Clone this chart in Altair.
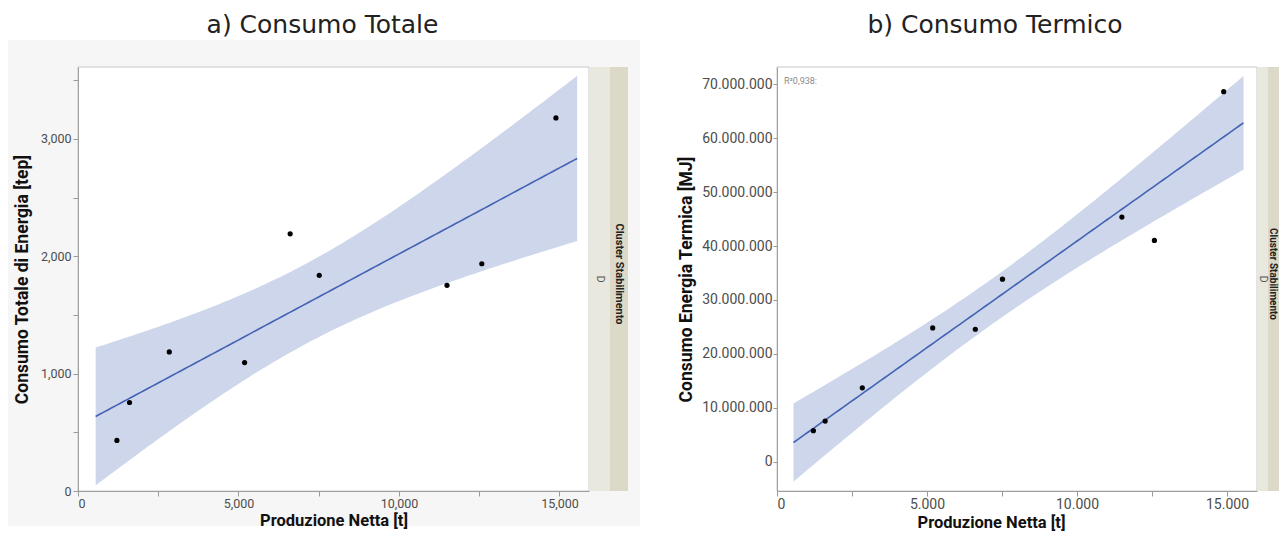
import altair as alt
import numpy as np
import pandas as pd

# ---------------- data ----------------
PRODUZIONE = [1212, 1605, 2844, 5190, 6610, 7516, 11496, 12580, 14890]
CONSUMO_TOTALE = [431, 754, 1185, 1094, 2191, 1837, 1752, 1936, 3178]
CONSUMO_TERMICO = [5740000, 7520000, 13700000, 24800000, 24560000,
                   33850000, 45370000, 41040000, 68630000]
FIT_RANGE = [550, 15550]
T_CRIT = 2.3646  # t(0.975, df = 7)
R2_LABEL = "R²0,938:"
TITLES = ["a) Consumo Totale", "b) Consumo Termico"]
X_TITLE = "Produzione Netta [t]"
Y_TITLES = ["Consumo Totale di Energia [tep]", "Consumo Energia Termica [MJ]"]
X_TICKS = [0, 2500, 5000, 7500, 10000, 12500, 15000]
Y_TICKS_TOT = [0, 500, 1000, 1500, 2000, 2500, 3000, 3500]
Y_TICKS_TERM = [0, 10000000, 20000000, 30000000, 40000000, 50000000, 60000000, 70000000]
STRIP_LEVEL = "D"
STRIP_TITLE = "Cluster Stabilimento"

H = 424
FONT = "Roboto"
TITLE_FONT = "DejaVu Sans"


def fit_band(x, y, lo, hi, n=120):
    x = np.asarray(x, float)
    y = np.asarray(y, float)
    b, a = np.polyfit(x, y, 1)
    res = y - (a + b * x)
    s = np.sqrt((res ** 2).sum() / (len(x) - 2))
    xm = x.mean()
    sxx = ((x - xm) ** 2).sum()
    g = np.linspace(lo, hi, n)
    yh = a + b * g
    se = s * np.sqrt(1.0 / len(x) + (g - xm) ** 2 / sxx)
    return pd.DataFrame({"x": g, "fit": yh, "lo": yh - T_CRIT * se, "hi": yh + T_CRIT * se})


def panel(yvals, xdom, ydom, yticks, xexpr, yexpr, ytitle, width, title, title_dx,
          title_offset, lab_size, ytick, ylab_pad, ytitle_pad, xtitle_x=None,
          gray_bg=False, r2=None):
    pts = pd.DataFrame({"x": PRODUZIONE, "y": yvals})
    fit = fit_band(PRODUZIONE, yvals, FIT_RANGE[0], FIT_RANGE[1])
    dummy = pd.DataFrame({"t": [r2 if r2 else ""]})

    xaxis_kw = dict(values=X_TICKS, labelExpr=xexpr, title=X_TITLE, grid=False, zindex=1,
                    tickSize=5, tickColor="#9a9a9a", domainColor="#a0a0a0",
                    labelColor="#4d4d4d", labelFontSize=lab_size, labelFont=FONT,
                    titleFont=FONT, titleFontSize=16.5, titleFontWeight="bold",
                    titleColor="#111111", labelPadding=1, titlePadding=3)
    if xtitle_x is not None:
        xaxis_kw["titleX"] = xtitle_x
    xenc = alt.X("x:Q", scale=alt.Scale(domain=xdom, nice=False, zero=False),
                 axis=alt.Axis(**xaxis_kw))
    yenc = alt.Y("lo:Q", scale=alt.Scale(domain=ydom, nice=False, zero=False),
                 axis=alt.Axis(values=yticks, labelExpr=yexpr, title=ytitle, grid=False, zindex=1,
                               tickSize=ytick, tickColor="#9a9a9a", domainColor="#a0a0a0",
                               labelColor="#4d4d4d", labelFontSize=lab_size, labelFont=FONT,
                               titleFont=FONT, titleFontSize=17.5, titleFontWeight="bold",
                               titleColor="#111111", labelPadding=ylab_pad,
                               titlePadding=ytitle_pad))

    layers = []
    if gray_bg:
        layers.append(alt.Chart(dummy).mark_rect(color="#f6f6f6").encode(
            x=alt.value(-70), x2=alt.value(562), y=alt.value(-27), y2=alt.value(459)))
    layers.append(alt.Chart(dummy).mark_rect(fill="white", stroke="#c8c8c8", strokeWidth=1).encode(
        x=alt.value(0), x2=alt.value(width), y=alt.value(0), y2=alt.value(H)))
    band = alt.Chart(fit).mark_area(color="#cdd6ea", opacity=1).encode(x=xenc, y=yenc, y2="hi:Q")
    line = alt.Chart(fit).mark_line(color="#4262b3", strokeWidth=1.6).encode(x="x:Q", y="fit:Q")
    dots = alt.Chart(pts).mark_circle(color="black", opacity=1, size=27).encode(x="x:Q", y="y:Q")
    layers += [band, line, dots]
    if r2:
        layers.append(alt.Chart(dummy).mark_text(align="left", baseline="middle", fontSize=9,
                                                 font=FONT, color="#8a8a8a").encode(
            x=alt.value(7), y=alt.value(14), text="t:N"))
    return alt.layer(*layers).properties(
        width=width, height=H,
        title=alt.TitleParams(title, frame="group", anchor="middle", baseline="alphabetic",
                              offset=title_offset, dx=title_dx, font=TITLE_FONT, fontSize=25,
                              fontWeight="normal", color="#222222"))


def strip(width, light_w, dark_end, title_x, title_size):
    sdf = pd.DataFrame({"livello": [STRIP_LEVEL], "titolo": [STRIP_TITLE]})
    base = alt.Chart(sdf)
    light = base.mark_rect(color="#e9e8df").encode(
        x=alt.value(0), x2=alt.value(light_w), y=alt.value(0), y2=alt.value(H))
    dark = base.mark_rect(color="#dcd9c9").encode(
        x=alt.value(light_w), x2=alt.value(dark_end), y=alt.value(0), y2=alt.value(H))
    lvl = base.mark_text(angle=90, fontSize=11, font=FONT, color="#555555").encode(
        x=alt.value(light_w / 2), y=alt.value(H / 2), text="livello:N")
    ttl = base.mark_text(angle=90, fontSize=title_size, font=FONT, fontWeight="bold",
                         color="#222222", clip=True).encode(
        x=alt.value(title_x), y=alt.value(H / 2 - 5), text="titolo:N")
    return alt.layer(light, dark, lvl, ttl).properties(width=width, height=H)


comma_x = "datum.value % 5000 === 0 ? format(datum.value, ',') : ''"
dot_x = "datum.value % 5000 === 0 ? replace(format(datum.value, ','), regexp(',', 'g'), '.') : ''"
comma_y = "datum.value % 1000 === 0 ? format(datum.value, ',') : ''"
dot_y = "replace(format(datum.value, ','), regexp(',', 'g'), '.')"

left = panel(CONSUMO_TOTALE, [0, 15920], [0, 3612], Y_TICKS_TOT, comma_x, comma_y,
             Y_TITLES[0], 511, TITLES[0], -11, -18, 12.5, 5, 2, 9, gray_bg=True)
right = panel(CONSUMO_TERMICO, [0, 16000], [-5440000, 73200000], Y_TICKS_TERM, dot_x, dot_y,
              Y_TITLES[1], 480, TITLES[1], -22, 9, 14, 4, 1, 6, xtitle_x=214, r2=R2_LABEL)

chart = alt.hconcat(left, strip(188, 21, 39, 30, 11), right, strip(22, 11, 22, 16, 10),
                    spacing=0, bounds="flush").properties(
    padding={"left": 0, "top": 4, "right": 0, "bottom": 1}
).configure_view(strokeWidth=0).configure_axis(grid=False)

chart.save("out.html", embed_options={"renderer": "svg", "actions": False})
